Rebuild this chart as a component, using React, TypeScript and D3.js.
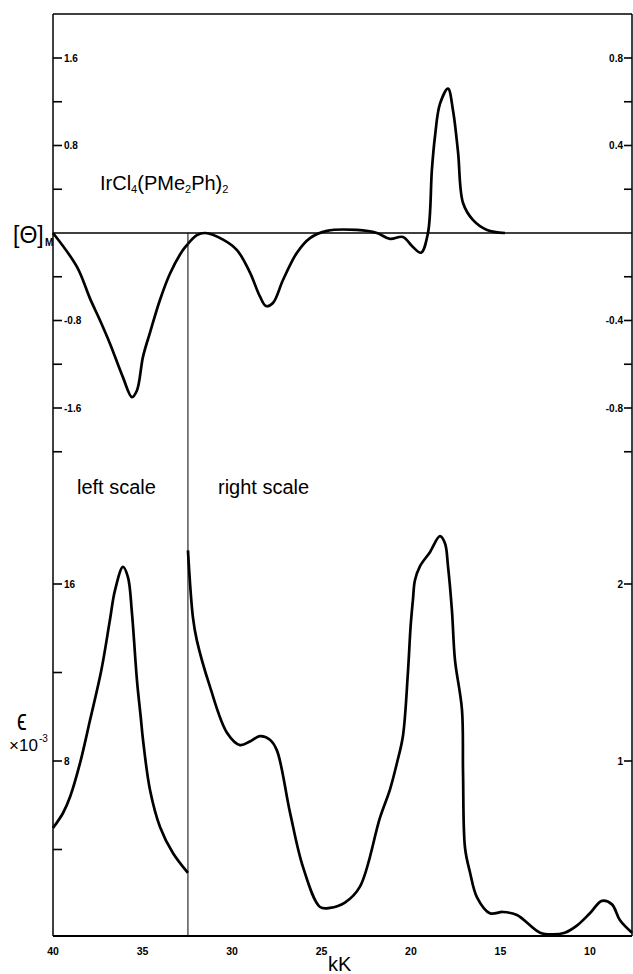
import React from "react";
import * as d3 from "d3";

// kK axis and the two pairs of y scales (left part / right part of the divider)
const kKTicks = [40, 35, 30, 25, 20, 15, 10];
const cdLeftTicks = [1.6, 0.8, -0.8, -1.6];
const cdLeftMinor = [1.2, 0.4, -0.4, -1.2, -2.0];
const cdRightTicks = [0.8, 0.4, -0.4, -0.8];
const cdRightMinor = [0.6, 0.2, -0.2, -0.6, -1.0];
const epsLeftTicks = [16, 8];
const epsLeftMinor = [12, 4];
const epsRightTicks = [2, 1];
const dividerKK = 32.46;

// CD, left scale  [kK, [θ]M]
const cdLeft: [number, number][] = [
  [40, 0], [38.66, -0.31], [37.93, -0.6], [37.37, -0.8], [36.82, -1.01],
  [36.09, -1.32], [35.59, -1.5], [35.31, -1.44], [34.97, -1.13], [34.58, -0.91],
  [34.02, -0.61], [33.46, -0.37], [32.74, -0.155], [32.46, -0.1],
];

// CD, right scale
const cdRight: [number, number][] = [
  [32.46, -0.05], [31.96, -0.01], [31.5, 0.0], [30.5, -0.03], [29.72, -0.078],
  [29.0, -0.18], [28.44, -0.29], [28.1, -0.334], [27.71, -0.32], [27.15, -0.215],
  [26.37, -0.09], [25.64, -0.023], [24.69, 0.01], [23.02, 0.014], [21.9, 0.0],
  [21.17, -0.027], [20.45, -0.018], [19.89, -0.064], [19.44, -0.09], [19.05, 0.0],
  [18.83, 0.29], [18.66, 0.44], [18.38, 0.59], [17.93, 0.66], [17.65, 0.56],
  [17.37, 0.37], [17.09, 0.137], [16.54, 0.06], [15.75, 0.014], [14.75, 0],
];

// absorption, left scale  [kK, ε x 10^-3]
const epsLeft: [number, number][] = [
  [40, 4.97], [39.44, 5.65], [39.05, 6.37], [38.49, 7.9], [37.93, 9.85],
  [37.3, 12.1], [36.82, 14.37], [36.54, 15.7], [36.09, 16.77], [35.81, 16.3],
  [35.59, 14.7], [35.31, 11.66], [35.1, 10.0], [34.97, 8.95], [34.58, 6.69],
  [34.02, 5.02], [33.3, 3.84], [32.46, 2.94],
];

// absorption, right scale
const epsRight: [number, number][] = [
  [32.46, 2.19], [32.18, 1.81], [31.96, 1.68], [31.23, 1.42], [30.28, 1.16],
  [29.55, 1.09], [29.0, 1.11], [28.44, 1.14], [27.88, 1.12], [27.49, 1.06],
  [26.76, 0.71], [26.03, 0.4], [25.08, 0.175], [24.53, 0.17], [23.69, 0.2],
  [22.85, 0.29], [21.73, 0.68], [21.17, 0.84], [20.78, 0.99], [20.45, 1.14],
  [20.17, 1.5], [20.02, 1.76], [19.89, 1.91], [19.78, 2.02], [19.5, 2.1],
  [18.94, 2.18], [18.38, 2.27], [18.1, 2.23], [17.93, 2.1], [17.71, 1.85],
  [17.54, 1.57], [17.15, 1.29], [17.09, 0.93], [16.98, 0.51], [16.7, 0.37],
  [16.31, 0.23], [15.59, 0.14], [14.86, 0.147], [14.08, 0.13], [12.79, 0.03],
  [12.07, 0.02], [11.4, 0.03], [10.73, 0.07], [10.0, 0.14], [9.33, 0.21],
  [8.77, 0.19], [8.32, 0.1], [7.65, 0.03],
];

const W = 633;
const H = 974;
const left = 53;
const right = 632;
const top = 14;
const bottom = 936;

const x = d3.scaleLinear().domain([40, 7.65]).range([left, right]);
const yCdL = d3.scaleLinear().domain([0, 1.6]).range([233, 58]);
const yCdR = d3.scaleLinear().domain([0, 0.8]).range([233, 58]);
const yEpsL = d3.scaleLinear().domain([0, 16]).range([938, 584]);
const yEpsR = d3.scaleLinear().domain([0, 2]).range([938, 584]);

const mkLine = (y: d3.ScaleLinear<number, number>) =>
  d3
    .line<[number, number]>()
    .x(d => x(d[0]))
    .y(d => y(d[1]))
    .curve(d3.curveCatmullRom.alpha(0.5));

const tickFont = "'Liberation Sans', Arial, sans-serif";
const fmt = (v: number) => (v < 0 ? "-" : "") + d3.format(".1f")(Math.abs(v));

export default function App() {
  const curve = { fill: "none", stroke: "#000", strokeWidth: 2.7, strokeLinejoin: "round" as const };
  return (
    <svg width={W} height={H} style={{ position: "absolute", left: 0, top: 0, background: "#fff" }}>
      {/* frame */}
      <line x1={left} x2={right} y1={top} y2={top} stroke="#000" strokeWidth={1.5} />
      <line x1={left} x2={left} y1={top} y2={bottom} stroke="#000" strokeWidth={1.5} />
      <line x1={right} x2={right} y1={top} y2={bottom} stroke="#000" strokeWidth={1.5} />
      <line x1={left} x2={right} y1={bottom} y2={bottom} stroke="#000" strokeWidth={1.8} />
      <line x1={left} x2={right} y1={yCdL(0)} y2={yCdL(0)} stroke="#000" strokeWidth={1.6} />
      <line x1={x(dividerKK)} x2={x(dividerKK)} y1={yCdL(0)} y2={bottom} stroke="#000" strokeWidth={1} />

      {/* left ticks */}
      <g fontFamily={tickFont} fontWeight="bold" fontSize={10}>
        {cdLeftTicks.map(v => (
          <g key={"cl" + v}>
            <line x1={left} x2={left + 9} y1={yCdL(v)} y2={yCdL(v)} stroke="#000" strokeWidth={1.6} />
            <text x={left + 11} y={yCdL(v) + 3.5}>{fmt(v)}</text>
          </g>
        ))}
        {cdLeftMinor.map(v => (
          <line key={"clm" + v} x1={left} x2={left + 9} y1={yCdL(v)} y2={yCdL(v)} stroke="#000" strokeWidth={1.6} />
        ))}
        {epsLeftTicks.map(v => (
          <g key={"el" + v}>
            <line x1={left} x2={left + 9} y1={yEpsL(v)} y2={yEpsL(v)} stroke="#000" strokeWidth={1.6} />
            <text x={left + 11} y={yEpsL(v) + 3.5}>{v}</text>
          </g>
        ))}
        {epsLeftMinor.map(v => (
          <line key={"elm" + v} x1={left} x2={left + 9} y1={yEpsL(v)} y2={yEpsL(v)} stroke="#000" strokeWidth={1.6} />
        ))}

        {/* right ticks */}
        {cdRightTicks.map(v => (
          <g key={"cr" + v}>
            <line x1={right - 8} x2={right} y1={yCdR(v)} y2={yCdR(v)} stroke="#000" strokeWidth={1.6} />
            <text x={right - 9} y={yCdR(v) + 3.5} textAnchor="end">{fmt(v)}</text>
          </g>
        ))}
        {cdRightMinor.map(v => (
          <line key={"crm" + v} x1={right - 8} x2={right} y1={yCdR(v)} y2={yCdR(v)} stroke="#000" strokeWidth={1.6} />
        ))}
        {epsRightTicks.map(v => (
          <g key={"er" + v}>
            <line x1={right - 8} x2={right} y1={yEpsR(v)} y2={yEpsR(v)} stroke="#000" strokeWidth={1.6} />
            <text x={right - 9} y={yEpsR(v) + 3.5} textAnchor="end">{v}</text>
          </g>
        ))}

        {/* bottom axis labels */}
        {kKTicks.map(v => (
          <text key={"x" + v} x={x(v)} y={955} textAnchor="middle" fontSize={10.5}>{v}</text>
        ))}
      </g>

      {/* curves */}
      <path d={mkLine(yCdL)(cdLeft) ?? ""} {...curve} />
      <path d={mkLine(yCdR)(cdRight) ?? ""} {...curve} />
      <path d={mkLine(yEpsL)(epsLeft) ?? ""} {...curve} />
      <path d={mkLine(yEpsR)(epsRight) ?? ""} {...curve} />

      {/* labels */}
      <g fontFamily={tickFont} fill="#000">
        <text x={13} y={243} fontSize={23}>[Θ]</text>
        <text x={45} y={246} fontSize={10} fontWeight="bold">M</text>
        <text x={100} y={190} fontSize={20}>
          IrCl<tspan fontSize={11} dy={3}>4</tspan>
          <tspan dy={-3}>(PMe</tspan><tspan fontSize={11} dy={3}>2</tspan>
          <tspan dy={-3}>Ph)</tspan><tspan fontSize={11} dy={3}>2</tspan>
        </text>
        <text x={77} y={494} fontSize={20}>left scale</text>
        <text x={218} y={494} fontSize={20}>right scale</text>
        <text x={17} y={730} fontSize={22} transform="translate(17 730) scale(1 1.3) translate(-17 -730)">ϵ</text>
        <text x={9} y={751} fontSize={17}>×10</text>
        <text x={39} y={742} fontSize={10}>-3</text>
        <text x={328} y={971} fontSize={20}>kK</text>
      </g>
    </svg>
  );
}
